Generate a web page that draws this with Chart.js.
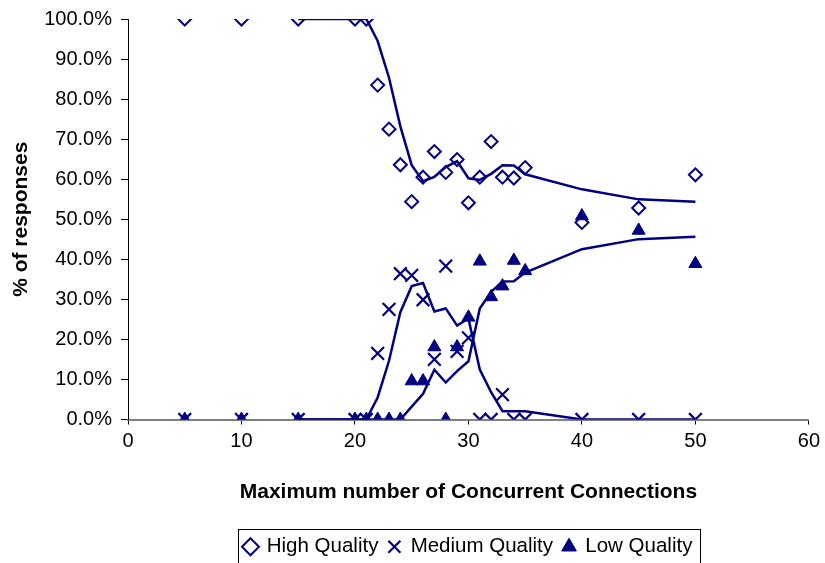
<!DOCTYPE html>
<html>
<head>
<meta charset="utf-8">
<script src="https://cdn.jsdelivr.net/npm/chart.js@4.4.1/dist/chart.umd.min.js"></script>
<style>
  html, body { margin: 0; padding: 0; background: #fff; overflow: hidden; }
  #wrap { width: 825px; height: 567px; }
</style>
</head>
<body>
<div id="wrap"><canvas id="chart"></canvas></div>
<script>
const connections = [5, 10, 15, 20, 21, 22, 23, 24, 25, 26, 27, 28, 29, 30, 31, 32, 33, 34, 35, 40, 45, 50];
const highQuality = [100, 100, 100, 100, 100, 83.5, 72.5, 63.6, 54.4, 60.5, 66.9, 61.7, 64.9, 54.1, 60.5, 69.4, 60.5, 60.3, 62.9, 49.2, 52.8, 61.1];
const mediumQuality = [0, 0, 0, 0, 0, 16.5, 27.5, 36.4, 36.0, 29.9, 15.0, 38.3, 17.0, 20.4, 0, 0, 6.2, 0, 0, 0, 0, 0];
const lowQuality = [0, 0, 0, 0, 0, 0, 0, 0, 9.6, 9.6, 18.1, 0, 18.1, 25.5, 39.5, 30.6, 33.3, 39.7, 37.1, 50.8, 47.2, 38.9];
const xTicks = [0, 10, 20, 30, 40, 50, 60];

const NAVY = '#000080';
const FONT = "'Liberation Sans', Arial, sans-serif";

// 3 period moving average trendline, like the spreadsheet trendline
function movingAverage(values, period) {
    const out = [];
    for (let i = period - 1; i < values.length; i++) {
        let sum = 0;
        for (let j = 0; j < period; j++) sum += values[i - j];
        out.push({ x: connections[i], y: sum / period });
    }
    return out;
}
const points = (values) => values.map((v, i) => ({ x: connections[i], y: v }));

const trend = (values) => ({
    label: 'trend',
    type: 'line',
    data: movingAverage(values, 3),
    borderColor: NAVY,
    borderWidth: 2.5,
    pointRadius: 0,
    fill: false,
    tension: 0,
    order: 0,
});

// legend sits under the plot area and gets a thin frame
const legendBox = {
    id: 'legendBox',
    afterLayout(chart) {
        chart.legend.left = chart.chartArea.left;
        chart.legend.right = chart.chartArea.right;
    },
    afterDraw(chart) {
        const boxes = chart.legend.legendHitBoxes;
        if (!boxes || !boxes.length) return;
        const ctx = chart.ctx;
        const left = Math.min(...boxes.map((b) => b.left)) - 6;
        const right = Math.max(...boxes.map((b) => b.left + b.width)) + 8;
        ctx.save();
        ctx.strokeStyle = '#000';
        ctx.lineWidth = 1;
        ctx.strokeRect(Math.round(left) + 0.5, 529.5, Math.round(right - left), 40);
        ctx.restore();
    }
};

new Chart(document.getElementById('chart'), {
    type: 'scatter',
    data: {
        datasets: [
            {
                label: 'High Quality',
                data: points(highQuality),
                pointStyle: 'rectRot',
                pointRadius: 6.5,
                pointBorderWidth: 2,
                borderColor: NAVY,
                backgroundColor: '#fff',
                order: 3,
            },
            {
                label: 'Medium Quality',
                data: points(mediumQuality),
                pointStyle: 'crossRot',
                pointRadius: 9,
                pointBorderWidth: 2.2,
                borderColor: NAVY,
                backgroundColor: NAVY,
                order: 2,
            },
            {
                label: 'Low Quality',
                data: points(lowQuality),
                pointStyle: 'triangle',
                pointRadius: 7.5,
                pointBorderWidth: 1,
                borderColor: NAVY,
                backgroundColor: NAVY,
                order: 1,
            },
            trend(highQuality),
            trend(mediumQuality),
            trend(lowQuality),
        ],
    },
    options: {
        responsive: true,
        maintainAspectRatio: false,
        animation: false,
        layout: {
            padding: { top: 5, right: 13, left: 0, bottom: 0 },
        },
        plugins: {
            legend: {
                position: 'bottom',
                labels: {
                    filter: (item) => item.text !== 'trend',
                    sort: (a, b) => a.datasetIndex - b.datasetIndex,
                    usePointStyle: true,
                    boxWidth: 12,
                    boxHeight: 12,
                    padding: 10,
                    color: '#000',
                    font: { family: FONT, size: 20.5 },
                },
            },
            tooltip: { enabled: false },
        },
        scales: {
            x: {
                type: 'linear',
                min: 0,
                max: 60,
                afterBuildTicks: (axis) => { axis.ticks = xTicks.map((v) => ({ value: v })); },
                afterFit: (axis) => { axis.height = 107; },
                border: { color: '#808080', width: 2 },
                grid: { drawOnChartArea: false, drawTicks: true, tickLength: 5, color: '#000' },
                ticks: {
                    color: '#000',
                    padding: 5,
                    font: { family: FONT, size: 20 },
                },
                title: {
                    display: true,
                    text: 'Maximum number of Concurrent Connections',
                    color: '#000',
                    padding: { top: 0, bottom: 22 },
                    font: { family: FONT, size: 21, weight: 'bold' },
                },
            },
            y: {
                min: 0,
                max: 100,
                afterFit: (axis) => { axis.width = 128; },
                border: { color: '#000', width: 1 },
                grid: { drawOnChartArea: false, drawTicks: true, tickLength: 7, color: '#000' },
                ticks: {
                    stepSize: 10,
                    color: '#000',
                    padding: 9,
                    font: { family: FONT, size: 20, lineHeight: 1 },
                    callback: (value) => value.toFixed(1) + '%',
                },
                title: {
                    display: true,
                    text: '% of responses',
                    color: '#000',
                    padding: { top: 9, bottom: 0 },
                    font: { family: FONT, size: 21, weight: 'bold' },
                },
            },
        },
    },
    plugins: [legendBox],
});
</script>
</body>
</html>
